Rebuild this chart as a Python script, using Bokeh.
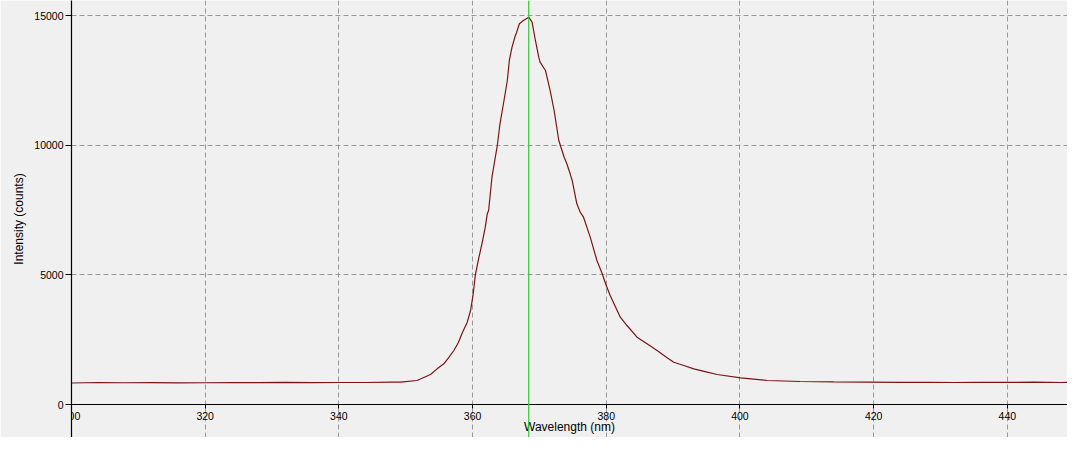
from bokeh.plotting import figure
from bokeh.models import Range1d, FixedTicker, Span
from bokeh.embed import file_html
from bokeh.resources import INLINE

# Data
wavelength = [300, 304, 308, 312, 316, 320, 324, 328, 332, 336, 340, 344, 348,
              349.2, 351.7, 353.7, 354.7, 355.7, 356.4, 357.2, 357.9, 358.4, 359.2,
              359.7, 360.1, 360.4, 360.9, 361.4, 361.9, 362.2, 362.4, 362.9, 363.7,
              364.1, 364.7, 365.2, 365.5, 365.9, 366.4, 366.6, 367.0, 367.6, 368.4,
              368.9, 369.4, 369.9, 370.1, 370.9, 371.6, 372.2, 372.9, 373.7, 374.1,
              374.6, 374.9, 375.6, 376.1, 376.6, 377.6, 378.6, 379.4, 379.9, 380.6,
              382.1, 383.1, 384.6, 386.1, 387.6, 389.1, 390.1, 391.6, 393.1, 395.1,
              396.6, 400.1, 404.1, 409, 414, 419, 424, 428, 432, 436, 440, 444, 448, 450]
intensity = [830, 850, 840, 845, 835, 840, 850, 845, 855, 845, 850, 850, 865,
             861, 927, 1158, 1377, 1571, 1802, 2085, 2406, 2730, 3178,
             3629, 4274, 4981, 5625, 6205, 6846, 7363, 7490, 8776, 10000,
             10838, 11737, 12510, 13282, 13796, 14247, 14375, 14699, 14826, 14955,
             14761, 14054, 13410, 13216, 12896, 12124, 11351, 10193, 9548, 9293,
             8907, 8649, 7750, 7425, 7232, 6460, 5560, 5046, 4660, 4200,
             3371, 3050, 2598, 2342, 2085, 1802, 1633, 1506, 1378, 1248,
             1158, 1030, 927, 888, 870, 861, 855, 860, 850, 858, 855, 862, 850, 855]
x_ticks = [300, 320, 340, 360, 380, 400, 420, 440]
y_ticks = [0, 5000, 10000, 15000]
marker_wavelength = 368.4

BG = "#f0f0f0"
FONT = "Liberation Sans"

p = figure(width=1067, height=437, output_backend="svg", toolbar_location=None,
           x_range=Range1d(300, 449.0), y_range=Range1d(-1274, 15598),
           min_border_left=71, min_border_right=0, min_border_top=0, min_border_bottom=0)
p.background_fill_color = BG
p.border_fill_color = BG
p.outline_line_color = None

p.xaxis.fixed_location = 0
p.xaxis.ticker = FixedTicker(ticks=x_ticks)
p.yaxis.ticker = FixedTicker(ticks=y_ticks)

for ax in (p.xaxis[0], p.yaxis[0]):
    ax.axis_line_color = "black"
    ax.axis_line_width = 1.2
    ax.major_tick_line_color = "black"
    ax.minor_tick_line_color = None
    ax.major_tick_in = 0
    ax.major_label_text_font = FONT
    ax.major_label_text_font_size = "10.5px"
    ax.major_label_text_color = "black"
    ax.axis_label_text_font = FONT
    ax.axis_label_text_font_size = "12px"
    ax.axis_label_text_font_style = "normal"
    ax.axis_label_text_color = "black"

p.xaxis.major_tick_out = 4
p.xaxis.major_label_standoff = 3
p.xaxis.axis_label = "Wavelength (nm)"
p.xaxis.axis_label_standoff = -3
p.yaxis.major_tick_out = 6
p.yaxis.major_label_standoff = 2
p.yaxis.axis_label = "Intensity (counts)"
p.yaxis.axis_label_standoff = 5

for g in (p.xgrid[0], p.ygrid[0]):
    g.grid_line_color = "#999999"
    g.grid_line_dash = "5 3"
    g.grid_line_width = 1

p.line(wavelength, intensity, line_color="#7a1414", line_width=1.2)
p.add_layout(Span(location=marker_wavelength, dimension="height",
                  line_color="#33c833", line_width=1.2))

open("out.html", "w").write(file_html(p, INLINE))
